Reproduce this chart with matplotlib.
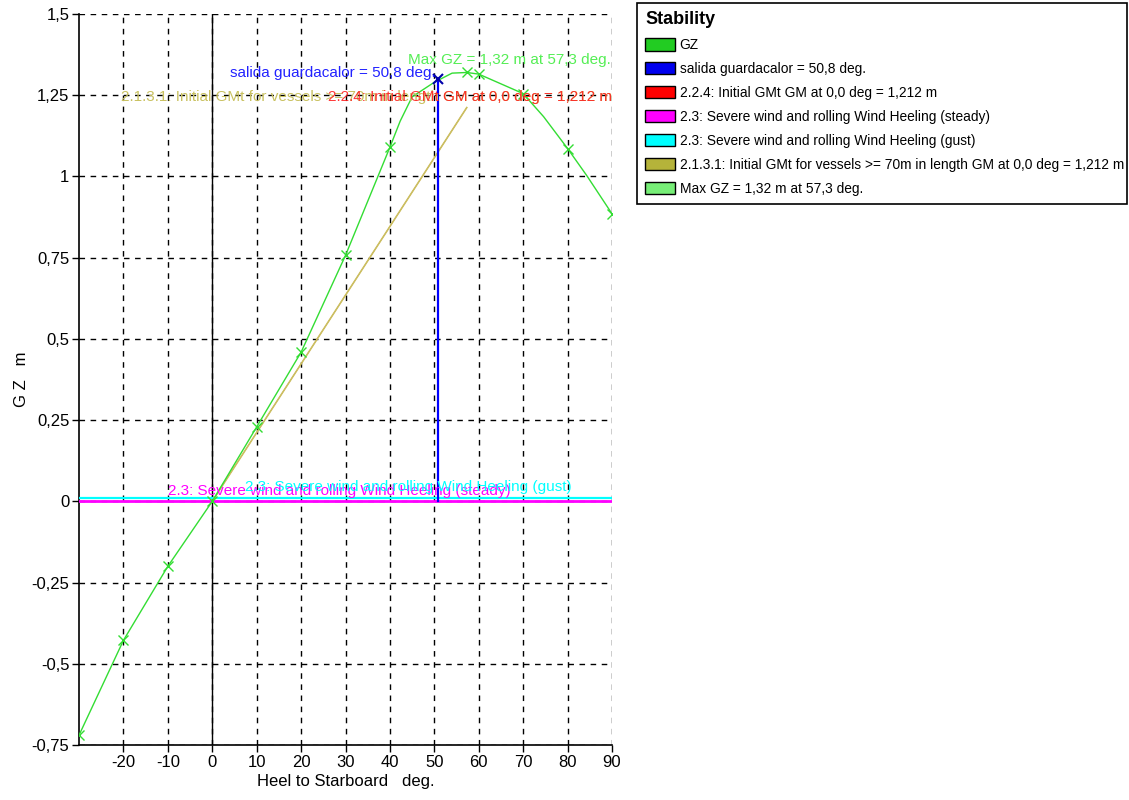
###############################################################
# matplotlib
###############################################################
import matplotlib
matplotlib.use('Agg')
import matplotlib.pyplot as plt
from matplotlib.patches import Patch
import numpy as np

plt.rcParams['font.family'] = ['Liberation Sans', 'DejaVu Sans']
plt.rcParams['axes.unicode_minus'] = False

###############################################################
# data
###############################################################
heel = [-30, -20, -10, 0, 10, 20, 30, 40, 42.3, 45, 50, 54, 57.3, 60, 65, 70, 74.6, 80, 84.3, 90]
gz = [-0.72, -0.428, -0.20, 0.0, 0.229, 0.459, 0.757, 1.09, 1.17, 1.245, 1.29, 1.318, 1.32, 1.315,
      1.285, 1.255, 1.184, 1.086, 1.003, 0.885]
marked_heel = [-30, -20, -10, 0, 10, 20, 30, 40, 57.3, 60, 70, 80, 90]

gm_heel = [0, 57.3]
gm_line = [0, 1.212]

downflood_angle = 50.8
downflood_gz = 1.30

wind_steady = 0.0
wind_gust = 0.009

yticks = [-0.75, -0.5, -0.25, 0, 0.25, 0.5, 0.75, 1, 1.25, 1.5]
yticklabels = ['-0,75', '-0,5', '-0,25', '0', '0,25', '0,5', '0,75', '1', '1,25', '1,5']
xticks = [-20, -10, 0, 10, 20, 30, 40, 50, 60, 70, 80, 90]

legend_labels = ['GZ', 'salida guardacalor = 50,8 deg.', '2.2.4: Initial GMt GM at 0,0 deg = 1,212 m',
                 '2.3: Severe wind and rolling Wind Heeling (steady)',
                 '2.3: Severe wind and rolling Wind Heeling (gust)',
                 '2.1.3.1: Initial GMt for vessels >= 70m in length GM at 0,0 deg = 1,212 m',
                 'Max GZ = 1,32 m at 57,3 deg.']
legend_colors = ['#22cc22', '#0000ee', '#ff0000', '#ff00ff', '#00ffff', '#b5b33a', '#77ee77']

##################################################
# figure
##################################################
fig = plt.figure(figsize=(11.29, 8.0), dpi=100)
ax = fig.add_axes([79 / 1129, 55 / 800, (612 - 79) / 1129, (745 - 14) / 800])

green = '#33dd33'
olive = '#c9c160'

# wind heeling lines
ax.axhline(wind_gust, color='#00ffff', linewidth=1.6, zorder=3)
ax.axhline(wind_steady, color='#ff00ff', linewidth=2.0, zorder=3)
ax.axvline(0, color='black', linewidth=1.0, zorder=2)

# GM lines
ax.plot(gm_heel, gm_line, color='#ff0000', linewidth=0.5, zorder=3)
ax.plot(gm_heel, gm_line, color=olive, linewidth=1.2, zorder=3)

# GZ curve
ax.plot(heel, gz, color=green, linewidth=1.0, zorder=4)
mk = [gz[heel.index(h)] for h in marked_heel]
ax.plot(marked_heel, mk, linestyle='none', marker='x', markersize=7, color=green, markeredgewidth=1.0, zorder=4)

# downflooding angle
ax.plot([downflood_angle, downflood_angle], [0, downflood_gz], color='#0000ff', linewidth=1.6, zorder=5)
ax.plot([downflood_angle], [downflood_gz], marker='x', markersize=7, color='#0000aa', markeredgewidth=1.5, zorder=6)

# annotations
fs = 11
ax.text(89.8, 1.345, 'Max GZ = 1,32 m at 57,3 deg.', color='#55ee55', fontsize=fs, ha='right', va='baseline', zorder=7)
ax.text(50.3, 1.305, 'salida guardacalor = 50,8 deg.', color='#2222ff', fontsize=fs, ha='right', va='baseline', zorder=7)
ax.text(90, 1.232, '2.1.3.1: Initial GMt for vessels >= 70m in length GM at 0,0 deg = 1,212 m', color=olive,
        fontsize=fs, ha='right', va='baseline', zorder=7)
ax.text(90, 1.232, '2.2.4: Initial GMt GM at 0,0 deg = 1,212 m', color='#ff2222', fontsize=fs, ha='right',
        va='baseline', alpha=0.9, zorder=7)
ax.text(-10, 0.02, '2.3: Severe wind and rolling Wind Heeling (steady)', color='#ff00ff', fontsize=fs,
        ha='left', va='baseline', zorder=7)
ax.text(7.4, 0.032, '2.3: Severe wind and rolling Wind Heeling (gust)', color='#00ffff', fontsize=fs,
        ha='left', va='baseline', zorder=7)

##################################################
# axes
##################################################
ax.set_xlim(-30, 90)
ax.set_ylim(-0.75, 1.5)
ax.set_xticks(xticks)
ax.set_yticks(yticks)
ax.set_yticklabels(yticklabels)
ax.tick_params(direction='out', length=5, width=1, labelsize=12, colors='black', pad=2)
ax.grid(True, color='black', linestyle=(0, (4, 4)), linewidth=1.0, zorder=1)
ax.set_axisbelow(True)
for s in ['top', 'right']:
    ax.spines[s].set_visible(False)
for s in ['left', 'bottom']:
    ax.spines[s].set_linewidth(1.2)

ax.set_xlabel('Heel to Starboard   deg.', fontsize=12, labelpad=3)
ax.set_ylabel('G Z   m', fontsize=12)
ax.yaxis.set_label_coords(-0.094, 0.5)

##################################################
# legend
##################################################
handles = [Patch(facecolor=c, edgecolor='black', linewidth=1.0) for c in legend_colors]
leg = fig.legend(handles, legend_labels, title='Stability', loc='upper left',
                 bbox_to_anchor=(637 / 1129, 1 - 205 / 800, (1127 - 637) / 1129, (205 - 3) / 800),
                 mode='expand', alignment='left', fontsize=9.9, title_fontproperties={'weight': 'bold', 'size': 13},
                 frameon=True, fancybox=False, edgecolor='black', framealpha=1, handlelength=2.15,
                 handleheight=1.0, handletextpad=0.35, labelspacing=0.72, borderpad=0.6, borderaxespad=0)
leg.get_frame().set_linewidth(1.2)

plt.savefig('out.png', dpi=100)
